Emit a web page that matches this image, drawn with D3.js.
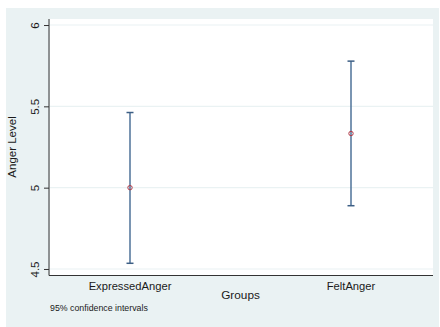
<!DOCTYPE html>
<meta charset="utf-8">
<script src="https://d3js.org/d3.v7.min.js"></script>
<style>
  body { margin: 0; background: #fff; }
  text { font-family: Arial, "Liberation Sans", sans-serif; fill: #1a1a1a; }
</style>
<div id="my_dataviz"></div>
<script>

// data
var groups = ["ExpressedAnger", "FeltAnger"];
var means = [5.0, 5.333];
var lower = [4.535, 4.889];
var upper = [5.462, 5.778];
var yTicks = [4.5, 5, 5.5, 6];

var W = 440, H = 327;
var margin = {top: 19, right: 7, bottom: 52, left: 50},
    width = W - margin.left - margin.right,
    height = H - margin.top - margin.bottom;

var svg = d3.select("#my_dataviz")
  .append("svg")
    .attr("width", W)
    .attr("height", H);

// outer graph region
svg.append("rect")
  .attr("x", 6).attr("y", 8)
  .attr("width", 433).attr("height", 319)
  .attr("fill", "#eaf2f3");

var g = svg.append("g")
  .attr("transform", "translate(" + margin.left + "," + margin.top + ")");

// plot region
g.append("rect")
  .attr("width", width).attr("height", height)
  .attr("fill", "#fff");

var x = d3.scalePoint()
  .domain(groups)
  .range([80, 301]);

var y = d3.scaleLinear()
  .domain([4.463, 6.037])
  .range([height, 0]);

// gridlines
g.selectAll(".grid")
  .data(yTicks)
  .enter()
  .append("line")
    .attr("x1", 0).attr("x2", width)
    .attr("y1", function(d){ return y(d); })
    .attr("y2", function(d){ return y(d); })
    .attr("stroke", "#eaf2f3")
    .attr("stroke-width", 1.2);

// Y axis
var yAxis = g.append("g")
  .attr("transform", "translate(-1,0)")
  .call(d3.axisLeft(y).tickValues(yTicks).tickSize(5).tickPadding(6)
    .tickFormat(function(d){ return d3.format("")(d); }));
yAxis.select(".domain").attr("stroke", "#333").attr("d", "M0,0V" + (height + 0.5));
yAxis.selectAll(".tick line").attr("stroke", "#333");
yAxis.selectAll(".tick text")
  .attr("transform", "rotate(-90)")
  .attr("x", 0).attr("y", -14)
  .attr("dy", "0.32em")
  .style("text-anchor", "middle")
  .style("font-size", "11.5px")
  .style("fill", "#1a1a1a");

// X axis (line only, labels below)
g.append("line")
  .attr("x1", -1).attr("x2", width)
  .attr("y1", height + 0.5).attr("y2", height + 0.5)
  .attr("stroke", "#333");

g.selectAll(".xlab")
  .data(groups)
  .enter()
  .append("text")
    .attr("x", function(d){ return x(d); })
    .attr("y", height + 15)
    .attr("text-anchor", "middle")
    .style("font-size", "11.2px")
    .text(function(d){ return d; });

// axis titles
svg.append("text")
  .attr("x", margin.left + width / 2 - 1)
  .attr("y", 299)
  .attr("text-anchor", "middle")
  .style("font-size", "11.8px")
  .text("Groups");

svg.append("text")
  .attr("transform", "translate(16," + (margin.top + height / 2) + ") rotate(-90)")
  .attr("text-anchor", "middle")
  .style("font-size", "11.5px")
  .text("Anger Level");

svg.append("text")
  .attr("x", 50)
  .attr("y", 311)
  .style("font-size", "8.8px")
  .text("95% confidence intervals");

// error bars
var bars = g.selectAll(".ci")
  .data(groups)
  .enter()
  .append("g");

bars.append("line")
  .attr("x1", function(d){ return x(d); })
  .attr("x2", function(d){ return x(d); })
  .attr("y1", function(d, i){ return y(lower[i]); })
  .attr("y2", function(d, i){ return y(upper[i]); })
  .attr("stroke", "#4e7299")
  .attr("stroke-width", 1.5);

bars.append("line")
  .attr("x1", function(d){ return x(d) - 3.5; })
  .attr("x2", function(d){ return x(d) + 3.5; })
  .attr("y1", function(d, i){ return y(upper[i]); })
  .attr("y2", function(d, i){ return y(upper[i]); })
  .attr("stroke", "#3d5f85")
  .attr("stroke-width", 1.5);

bars.append("line")
  .attr("x1", function(d){ return x(d) - 3.5; })
  .attr("x2", function(d){ return x(d) + 3.5; })
  .attr("y1", function(d, i){ return y(lower[i]); })
  .attr("y2", function(d, i){ return y(lower[i]); })
  .attr("stroke", "#3d5f85")
  .attr("stroke-width", 1.5);

// mean markers
bars.append("circle")
  .attr("cx", function(d){ return x(d); })
  .attr("cy", function(d, i){ return y(means[i]); })
  .attr("r", 2.2)
  .attr("fill", "none")
  .attr("stroke", "#b03a48")
  .attr("stroke-width", 1);

</script>
